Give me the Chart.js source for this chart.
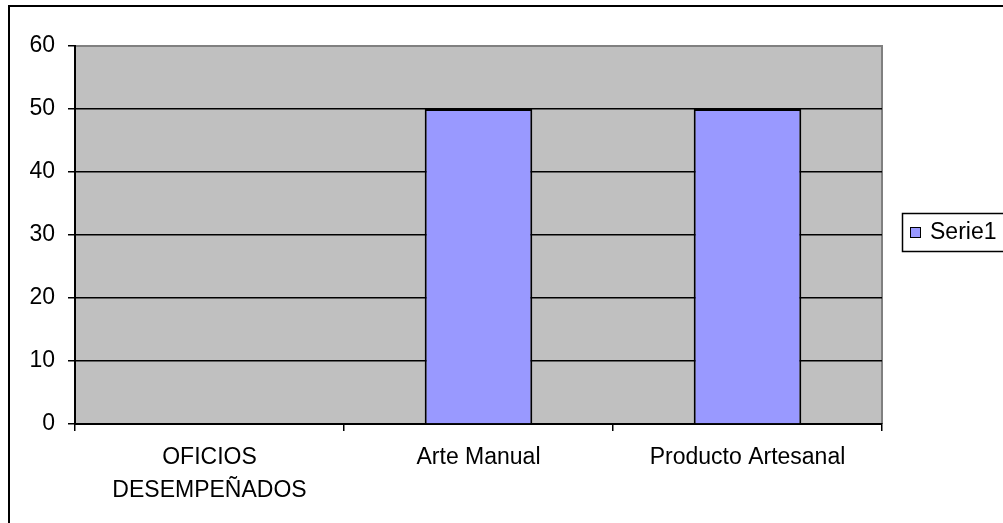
<!DOCTYPE html>
<html>
<head>
<meta charset="utf-8">
<script src="https://cdn.jsdelivr.net/npm/chart.js@4.4.1/dist/chart.umd.min.js"></script>
<style>
  html, body { margin: 0; padding: 0; background: #fff; overflow: hidden; }
  #wrap { position: relative; width: 1003px; height: 523px; }
  canvas { display: block; }
</style>
</head>
<body>
<div id="wrap"><canvas id="c" width="1003" height="523"></canvas></div>
<script>
const categories = [["OFICIOS", "DESEMPEÑADOS"], "Arte Manual", "Producto Artesanal"];
const serie1 = [null, 50, 50];
const seriesName = "Serie1";
const yTicks = [0, 10, 20, 30, 40, 50, 60];

const FONT = { family: "'Liberation Sans', Arial, sans-serif", size: 23, lineHeight: 1.4 };

const framePlugin = {
  id: 'frame',
  beforeDraw(chart) {
    const { ctx, chartArea: a } = chart;
    ctx.save();
    ctx.fillStyle = '#C0C0C0';
    ctx.fillRect(a.left, a.top, a.right - a.left, a.bottom - a.top);
    ctx.strokeStyle = '#808080';
    ctx.lineWidth = 2;
    ctx.beginPath();
    ctx.moveTo(a.left, a.top);
    ctx.lineTo(a.right, a.top);
    ctx.lineTo(a.right, a.bottom);
    ctx.stroke();
    // outer chart frame (left and top edges visible)
    ctx.strokeStyle = '#000';
    ctx.lineWidth = 2;
    ctx.beginPath();
    ctx.moveTo(9, 530);
    ctx.lineTo(9, 6);
    ctx.lineTo(1010, 6);
    ctx.stroke();
    ctx.restore();
  },
  afterDraw(chart) {
    const { ctx } = chart;
    const ds = chart.data.datasets[0];
    ctx.save();
    // legend box (right edge lies outside the picture)
    ctx.strokeStyle = '#000';
    ctx.lineWidth = 1.5;
    ctx.beginPath();
    ctx.moveTo(1010, 213.5);
    ctx.lineTo(902.5, 213.5);
    ctx.lineTo(902.5, 251.5);
    ctx.lineTo(1010, 251.5);
    ctx.stroke();
    // marker
    ctx.fillStyle = ds.backgroundColor;
    ctx.fillRect(911, 228, 9, 9);
    ctx.lineWidth = 1;
    ctx.strokeRect(910.5, 227.5, 10, 10);
    ctx.fillStyle = '#000';
    ctx.font = FONT.size + 'px ' + FONT.family;
    ctx.textBaseline = 'middle';
    ctx.textAlign = 'left';
    ctx.fillText(ds.label, 930, 233);
    ctx.restore();
  }
};

new Chart(document.getElementById('c'), {
  type: 'bar',
  data: {
    labels: categories,
    datasets: [{
      label: seriesName,
      data: serie1,
      backgroundColor: '#9999FF',
      borderColor: '#000000',
      borderWidth: 2,
      borderSkipped: 'start',
      categoryPercentage: 1.0,
      barPercentage: 0.4
    }]
  },
  options: {
    responsive: false,
    animation: false,
    layout: { padding: { top: 46, right: 121, bottom: 0, left: 0 } },
    plugins: { legend: { display: false }, tooltip: { enabled: false } },
    scales: {
      x: {
        offset: true,
        grid: {
          offset: true,
          drawOnChartArea: false,
          drawTicks: true,
          tickLength: 7,
          color: '#000',
          lineWidth: 1.5
        },
        border: { display: true, color: '#000', width: 2 },
        ticks: { color: '#000', font: FONT, padding: 11, maxRotation: 0, autoSkip: false },
        afterFit(scale) { scale.height = 99; }
      },
      y: {
        min: 0,
        max: 60,
        afterBuildTicks(scale) { scale.ticks = yTicks.map(v => ({ value: v })); },
        grid: {
          color: (c) => (c.tick && c.tick.value === 60) ? '#808080' : '#000',
          lineWidth: 1.5,
          drawTicks: true,
          tickLength: 7,
          tickColor: '#000'
        },
        border: { display: true, color: '#000', width: 2 },
        ticks: { color: '#000', font: { family: FONT.family, size: 23 }, padding: 13 },
        afterFit(scale) { scale.width = 75; }
      }
    }
  },
  plugins: [framePlugin]
});
</script>
</body>
</html>
